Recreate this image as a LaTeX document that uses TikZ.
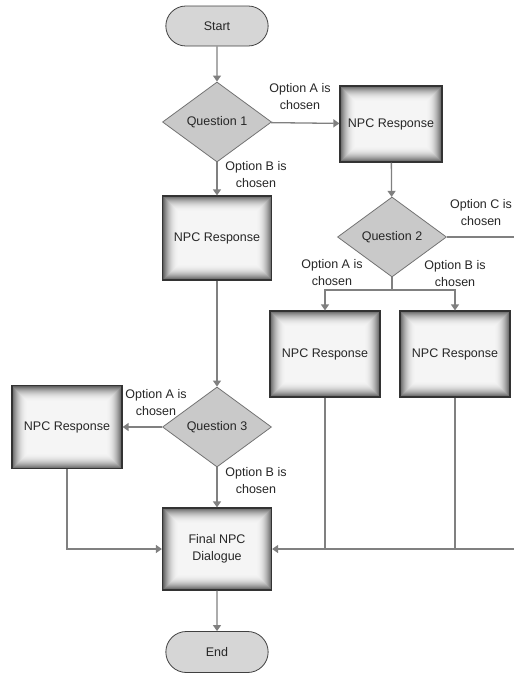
\documentclass[tikz,border=0pt]{standalone}
\usepackage{fontspec}
\setmainfont{Liberation Sans}
\usetikzlibrary{shapes.geometric,shapes.misc,arrows.meta,positioning}

\tikzset{
  every node/.style={font=\fontsize{12.5}{17}\selectfont, text=black!85},
  terminal/.style={rounded rectangle, draw=black!75, line width=0.8pt, fill=black!16,
    minimum width=109pt, minimum height=40pt},
  decision/.style={diamond, draw=black!55, line width=0.8pt, fill=black!21,
    minimum width=109pt, minimum height=80pt, inner sep=0pt},
  response/.style={rectangle, draw=black!80, line width=1.2pt, fill=black!4,
    minimum width=109pt, minimum height=84pt, align=center,
    path picture={
      \foreach \i in {1,...,16}{
        \pgfmathsetmacro\w{34-2*\i}
        \pgfmathsetmacro\c{4+58*(\i/16)^2.2}
        \draw[black!\c, line width=\w pt]
          (path picture bounding box.south west) rectangle (path picture bounding box.north east);
      }
    }},
  link/.style={draw=black!50, line width=1.3pt},
  flow/.style={link, -{Triangle[length=6pt,width=8pt]}},
  choice/.style={align=center}
}

\begin{document}
\begin{tikzpicture}[x=1pt,y=-1pt]
  \useasboundingbox (0,0) rectangle (514,675);

  % main column
  \node[terminal] (start) at (217,26) {Start};
  \node[decision] (q1) at (217,122) {Question 1};
  \node[response] (r2) at (217,238) {NPC Response};
  \node[decision] (q3) at (217,427) {Question 3};
  \node[response, minimum height=82pt] (final) at (217,549) {Final NPC\\Dialogue};
  \node[terminal, minimum height=41pt] (end) at (217,652) {End};

  % side boxes
  \node[response, minimum width=102pt, minimum height=76pt] (r1) at (391,124) {NPC Response};
  \node[decision] (q2) at (392,237) {Question 2};
  \node[response, minimum width=110pt, minimum height=86pt] (r3) at (325,354) {NPC Response};
  \node[response, minimum width=110pt, minimum height=86pt] (r4) at (455,354) {NPC Response};
  \node[response, minimum width=110pt, minimum height=83pt] (r5) at (67,427) {NPC Response};

  \coordinate (split) at (392,290);
  \coordinate (farright) at (522,237);

  % connectors
  \draw[flow] (start) -- (q1);
  \draw[flow] (q1) -- (r1);
  \draw[flow] (q1) -- (r2);
  \draw[flow] (r1) -- (q2);
  \draw[link] (q2.south) -- (split);
  \draw[flow] (split) -| (r3.north);
  \draw[flow] (split) -| (r4.north);
  \draw[flow] (q2.east) -- (farright) |- (final.east);
  \draw[link] (r3.south) -- (r3.south |- final.east);
  \draw[link] (r4.south) -- (r4.south |- final.east);
  \draw[flow] (r2) -- (q3);
  \draw[flow] (q3) -- (r5);
  \draw[flow] (q3) -- (final);
  \draw[flow] (r5.south) |- (final.west);
  \draw[flow] (final) -- (end);

  % branch labels
  \node[choice] (l1a) at (300,97) {Option A is\\chosen};
  \node[choice] (l1b) at (256,175) {Option B is\\chosen};
  \node[choice] (l2c) at (481,213) {Option C is\\chosen};
  \node[choice] (l2a) at (332,273) {Option A is\\chosen};
  \node[choice] (l2b) at (455,274) {Option B is\\chosen};
  \node[choice] (l3a) at (156,403) {Option A is\\chosen};
  \node[choice] (l3b) at (256,481) {Option B is\\chosen};
\end{tikzpicture}
\end{document}
